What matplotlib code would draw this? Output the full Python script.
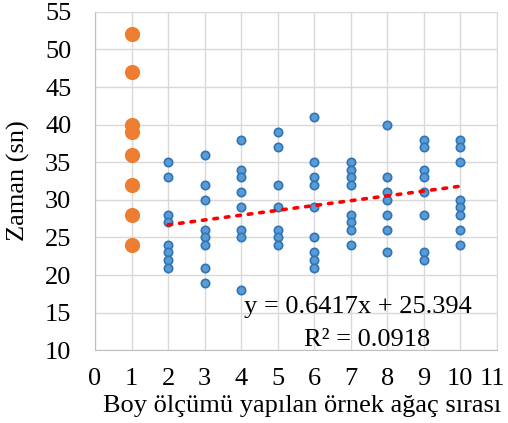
import numpy as np
import matplotlib.pyplot as plt
from matplotlib.transforms import ScaledTranslation

plt.rcParams['font.family'] = ['Liberation Serif', 'DejaVu Serif']

# first tree measurements (orange)
first_x = [1, 1, 1, 1, 1, 1, 1, 1]
first_y = [52, 47, 40, 39, 36, 32, 28, 24]

# remaining trees, sample order 2..10
x2 = [2] * 8;  y2 = [35, 33, 28, 27, 24, 23, 22, 21]
x3 = [3] * 8;  y3 = [36, 32, 30, 26, 25, 24, 21, 19]
x4 = [4] * 8;  y4 = [38, 34, 33, 31, 29, 26, 25, 18]
x5 = [5] * 7;  y5 = [39, 37, 32, 29, 26, 25, 24]
x6 = [6] * 9;  y6 = [41, 35, 33, 32, 29, 25, 23, 22, 21]
x7 = [7] * 8;  y7 = [35, 34, 33, 32, 28, 27, 26, 24]
x8 = [8] * 7;  y8 = [40, 33, 31, 30, 28, 26, 23]
x9 = [9] * 8;  y9 = [38, 37, 34, 33, 31, 28, 23, 22]
x10 = [10] * 8; y10 = [38, 37, 35, 30, 29, 28, 26, 24]

rest_x = x2 + x3 + x4 + x5 + x6 + x7 + x8 + x9 + x10
rest_y = y2 + y3 + y4 + y5 + y6 + y7 + y8 + y9 + y10

# linear trend
slope = 0.6417
intercept = 25.394
r2 = 0.0918

fig = plt.figure(figsize=(5.08, 4.23), dpi=100)
ax = fig.add_axes([0.187, 0.172, 0.791, 0.8])

ax.scatter(first_x, first_y, s=120, color='#ED7D31', zorder=3, linewidths=0)
ax.scatter(rest_x, rest_y, s=36, color='#5B9BD5', edgecolors='#2E75B6',
           linewidths=1.2, zorder=3)

tx = np.array([2, 10])
ax.plot(tx, slope * tx + intercept, color='#FF0000', linestyle=(0, (1, 2.2)),
        linewidth=2.6, dash_capstyle='round', zorder=4)

ax.set_xlim(0, 11)
ax.set_ylim(10, 55)
ax.set_xticks(range(0, 12))
ax.set_yticks(range(10, 56, 5))
ax.grid(True, color='#d9d9d9', linewidth=1)
ax.set_axisbelow(True)
for s in ax.spines.values():
    s.set_color('#d9d9d9')
ax.spines['left'].set_color('#bfbfbf')
ax.spines['bottom'].set_color('#bfbfbf')
ax.tick_params(length=0, labelsize=19, colors='black')
ax.tick_params(axis='y', pad=17)
ax.tick_params(axis='x', pad=13)

# keep the last x label inside the figure
last = ax.get_xticklabels()[-1]
last.set_transform(last.get_transform() + ScaledTranslation(-0.04, 0, fig.dpi_scale_trans))

ax.set_xlabel('Boy ölçümü yapılan örnek ağaç sırası', fontsize=19, va='center')
ax.xaxis.set_label_coords(0.515, -0.166)
ax.set_ylabel('Zaman (sn)', fontsize=19, va='center')
ax.yaxis.set_label_coords(-0.19, 0.5)

ax.text(7.2, 15.7, f'y = {slope}x + {intercept}', fontsize=19,
        ha='center', va='center')
ax.text(7.45, 11.4, f'R² = {r2}', fontsize=19, ha='center', va='center')

fig.savefig('out.png', dpi=100)
